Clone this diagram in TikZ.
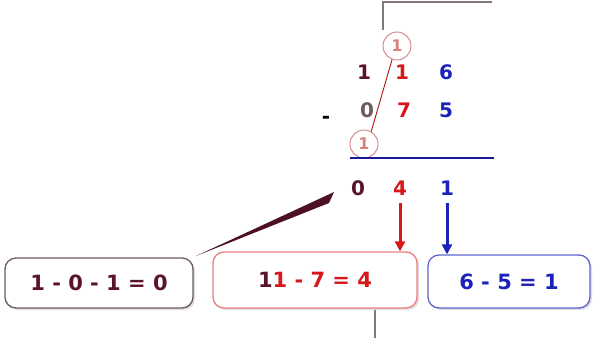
\documentclass[tikz,border=0pt]{standalone}
\usepackage{fontspec}
\setmainfont{DejaVu Sans}
\usetikzlibrary{arrows.meta,shadows}
\definecolor{dred}{HTML}{5A1428}
\definecolor{rred}{HTML}{D81818}
\definecolor{bblue}{HTML}{1A22B8}
\definecolor{pinkb}{HTML}{E88080}
\definecolor{grayb}{HTML}{6E5A5E}
\definecolor{lineg}{HTML}{857878}
\tikzset{
  dig/.style={font=\bfseries\fontsize{20}{20}\selectfont, inner sep=0pt},
  eqbox/.style={draw, rounded corners=11pt, line width=1.3pt, fill=white,
    drop shadow={shadow xshift=2pt, shadow yshift=-2pt, opacity=0.25},
    font=\bfseries\fontsize{21}{21}\selectfont},
  circ/.style={circle, draw=pinkb!80!gray, line width=0.9pt, minimum size=28pt, inner sep=0pt, text=pinkb!90!gray, font=\bfseries\fontsize{16}{16}\selectfont},
  downarr/.style={-{Triangle[length=10pt,width=10pt]}, line width=3pt}
}
\begin{document}
\begin{tikzpicture}[x=1pt,y=-1pt]
\useasboundingbox (0,0) rectangle (609,338);
% gray frame lines
\coordinate (gr) at (492,2);
\coordinate (gb) at (383,30);
\draw[lineg, line width=1.4pt] (gr) -- (383,2) -- (gb);
\coordinate (bt) at (375,310);
\coordinate (bb) at (375,338);
\draw[lineg, line width=1.4pt] (bt) -- (bb);
% borrow circles
\node[circ] (c1) at (397,46) {1};
\node[circ] (c2) at (364,144) {1};
\draw[rred!80!black, line width=0.9pt] (c1.250) -- (c2.60);
% digits
\node[dig, text=dred] (a1) at (364,72) {1};
\node[dig, text=rred] (a2) at (402,72) {1};
\node[dig, text=bblue] (a3) at (446,72) {6};
\node[dig, text=black] (m) at (326,120) {-};
\node[dig, text=grayb] (b1) at (367,110) {0};
\node[dig, text=rred] (b2) at (404,110) {7};
\node[dig, text=bblue] (b3) at (446,110) {5};
\coordinate (rl) at (350,158);
\coordinate (rr) at (494,158);
\draw[bblue!80!black, line width=1.5pt] (rl) -- (rr);
\node[dig, text=dred] (r1) at (358,188) {0};
\node[dig, text=rred] (r2) at (400,188) {4};
\node[dig, text=bblue] (r3) at (447,188) {1};
% boxes
\node[eqbox, draw=grayb, minimum width=188pt, minimum height=50pt, text=dred] (e1) at (99,283) {1 - 0 - 1 = 0};
\node[eqbox, draw=pinkb, minimum width=204pt, minimum height=56pt, text=rred] (e2) at (315,280) {\textcolor{dred}{1}1 - 7 = 4};
\node[eqbox, draw=bblue!70, minimum width=162pt, minimum height=53pt, text=bblue] (e3) at (509,281.5) {6 - 5 = 1};
% wedge pointer
\coordinate (w1) at (334,192);
\coordinate (w2) at (329,203);
\coordinate (wt) at (196,256);
\fill[dred!85!black] (w1) -- (w2) -- (wt) -- cycle;
% arrows
\draw[downarr, rred] (r2.south |- 0,203) -- (r2.south |- e2.north);
\draw[downarr, bblue] (r3.south |- 0,203) -- (r3.south |- e3.north);
\end{tikzpicture}
\end{document}
